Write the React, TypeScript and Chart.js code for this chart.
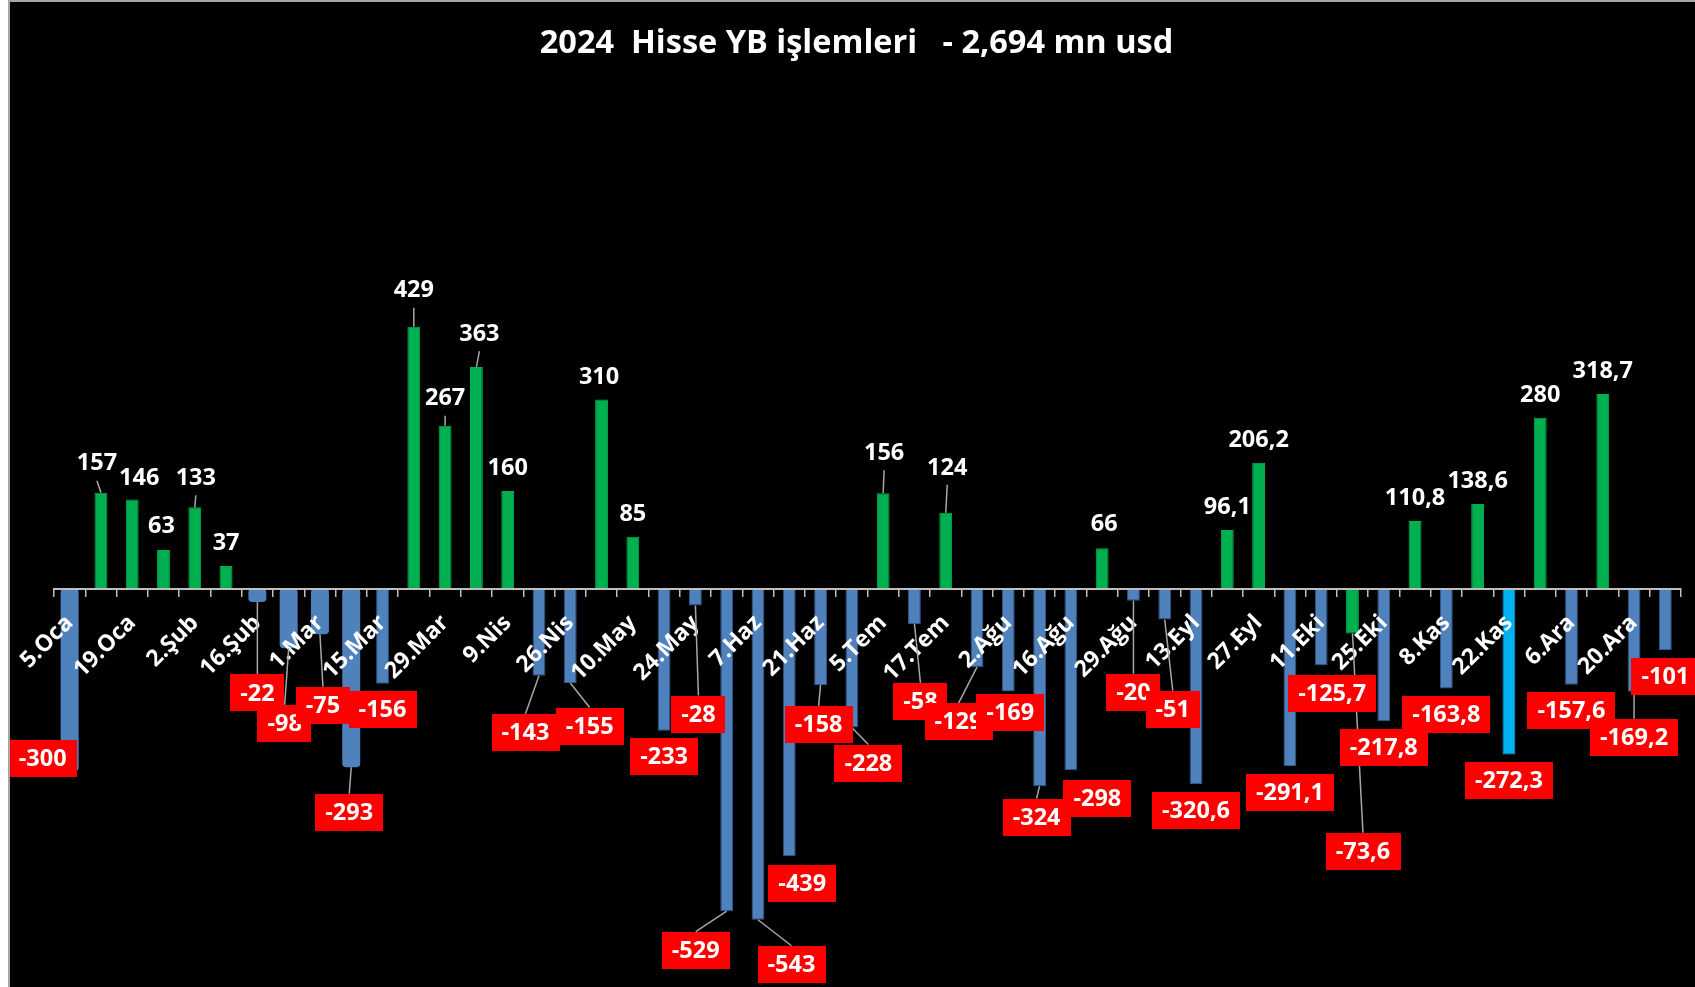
import React, { useEffect, useRef } from 'react';
import { Chart, registerables } from 'chart.js';

Chart.register(...registerables);

const TITLE = '2024  Hisse YB işlemleri   - 2,694 mn usd';

const WEEKS = [
  '5.Oca', '12.Oca', '19.Oca', '26.Oca', '2.Şub', '9.Şub', '16.Şub', '23.Şub',
  '1.Mar', '8.Mar', '15.Mar', '22.Mar', '29.Mar', '5.Nis', '9.Nis', '19.Nis',
  '26.Nis', '3.May', '10.May', '17.May', '24.May', '31.May', '7.Haz', '14.Haz',
  '21.Haz', '28.Haz', '5.Tem', '12.Tem', '17.Tem', '26.Tem', '2.Ağu', '9.Ağu',
  '16.Ağu', '23.Ağu', '29.Ağu', '6.Eyl', '13.Eyl', '20.Eyl', '27.Eyl', '4.Eki',
  '11.Eki', '18.Eki', '25.Eki', '1.Kas', '8.Kas', '15.Kas', '22.Kas', '29.Kas',
  '6.Ara', '13.Ara', '20.Ara', '27.Ara',
];

// weekly net foreign flows into equities, mn usd
const FLOWS = [
  -300, 157, 146, 63, 133, 37, -22, -98, -75, -293,
  -156, 429, 267, 363, 160, -143, -155, 310, 85, -233,
  -28, -529, -543, -439, -158, -228, 156, -58, 124, -129,
  -169, -324, -298, 66, -20, -51, -320.6, 96.1, 206.2, -291.1,
  -125.7, -73.6, -217.8, 110.8, -163.8, 138.6, -272.3, 280, -157.6, 318.7,
  -169.2, -101,
];

// styling groups
const WIDE_BARS = [0, 6, 7, 8, 9];
const GREEN_EXCEPTION = [41];
const CYAN_BARS = [46];

// data-label placement (pixel shift from bar end, leader line flag)
const POS_DY = -23.5;
const NEG_DY = 26;
const LABEL_SHIFT: Record<number, [number, number, boolean]> = {
  0: [-27, -13, false],
  1: [-4, -30, true],
  2: [7, -22, false],
  3: [-2, -25, false],
  4: [1, -30, true],
  6: [0, 91, true],
  7: [-4, 75, true],
  8: [3, 71, true],
  9: [-2, 45, true],
  11: [0, -37, true],
  12: [0, -28, true],
  13: [3, -34, true],
  15: [-13.5, 56.5, true],
  16: [19.5, 43, true],
  17: [-2.5, -23, false],
  20: [3, 108.5, true],
  21: [-31, 39, true],
  22: [33.5, 44.5, true],
  23: [13, 27, false],
  24: [-2, 39.5, true],
  25: [16.5, 35.5, true],
  26: [1, -41, true],
  27: [6, 77.5, true],
  28: [1.5, -46, true],
  29: [-18.5, 54.5, true],
  30: [2, 20.5, false],
  31: [-3, 31, true],
  32: [26.5, 28, false],
  33: [2, -25, false],
  34: [0, 91.5, true],
  35: [8, 89.5, true],
  40: [11, 28, false],
  41: [10.5, 218, true],
  50: [0, 45.5, true],
};

const BOX_H = 37;
const LABEL_FONT = 'bold 23.5px "Open Sans"';

const labelPlugin = {
  id: 'flowLabels',
  afterDraw(chart: any) {
    const c = chart.ctx as CanvasRenderingContext2D;
    const pts = FLOWS.map((v, i) => {
      const d = WIDE_BARS.includes(i) ? 1 : 0;
      const el = chart.getDatasetMeta(d).data[i];
      const s = LABEL_SHIFT[i] ?? [0, v >= 0 ? POS_DY : NEG_DY, false];
      return { v, x: el.x, y: el.y, lx: el.x + s[0], ly: el.y + s[1], lead: s[2] };
    });
    c.save();
    c.font = LABEL_FONT;
    c.strokeStyle = '#A6A6A6';
    c.lineWidth = 1.5;
    pts.forEach((p) => {
      if (!p.lead) return;
      c.beginPath();
      c.moveTo(p.x, p.y);
      c.lineTo(p.lx, p.v >= 0 ? p.ly + 18 : p.ly - BOX_H / 2);
      c.stroke();
    });
    c.textAlign = 'center';
    c.textBaseline = 'middle';
    pts.forEach((p) => {
      const txt = String(p.v).replace('.', ',');
      const w = c.measureText(txt).width;
      if (p.v < 0) {
        c.fillStyle = '#FF0000';
        c.fillRect(Math.round(p.lx - w / 2 - 10), Math.round(p.ly - BOX_H / 2), Math.round(w + 20), BOX_H);
      }
      c.fillStyle = '#FFFFFF';
      c.fillText(txt, p.lx, p.ly + 1);
    });
    c.restore();
  },
};

export default function App() {
  const ref = useRef<HTMLCanvasElement>(null);

  useEffect(() => {
    document.documentElement.style.overflow = 'hidden';
    const canvas = ref.current;
    if (!canvas) return;

    const colorOf = (i: number) => {
      if (CYAN_BARS.includes(i)) return '#00B0F0';
      if (GREEN_EXCEPTION.includes(i) || FLOWS[i] >= 0) return '#00B050';
      return '#4F81BD';
    };
    const fills = FLOWS.map((_, i) => colorOf(i));
    const borders = FLOWS.map((_, i) => (colorOf(i) === '#4F81BD' ? '#34568A' : colorOf(i)));
    const normal = FLOWS.map((v, i) => (WIDE_BARS.includes(i) ? null : v));
    const wide = FLOWS.map((v, i) => (WIDE_BARS.includes(i) ? v : null));

    const chart = new Chart(canvas, {
      type: 'bar',
      data: {
        labels: WEEKS,
        datasets: [
          {
            data: normal,
            backgroundColor: fills,
            borderColor: borders,
            borderWidth: 1,
            barPercentage: 0.41,
            categoryPercentage: 1,
            grouped: false,
          } as any,
          {
            data: wide,
            backgroundColor: '#4F81BD',
            borderColor: '#4F81BD',
            borderWidth: 0,
            borderRadius: 4,
            borderSkipped: false,
            barPercentage: 0.575,
            categoryPercentage: 1,
            grouped: false,
          } as any,
        ],
      },
      options: {
        animation: false,
        responsive: false,
        layout: { padding: { left: 22, right: 14, top: 0, bottom: 2 } },
        plugins: {
          legend: { display: false },
          tooltip: { enabled: false },
          title: {
            display: true,
            text: TITLE,
            color: '#FFFFFF',
            font: { family: 'Open Sans', size: 32.5, weight: 'bold', lineHeight: 1.2 },
            padding: { top: 22, bottom: 98.5 },
          },
        },
        scales: {
          x: {
            position: { y: 0 } as any,
            z: 1,
            grid: {
              display: true,
              drawOnChartArea: false,
              drawTicks: true,
              tickLength: 7,
              color: '#BFBFBF',
              lineWidth: 1.5,
              offset: true,
              z: 1,
            },
            border: { display: true, color: '#BFBFBF', width: 2, z: 1 },
            ticks: {
              z: 1,
              autoSkip: false,
              minRotation: 45,
              maxRotation: 45,
              padding: 14,
              color: '#FFFFFF',
              font: { family: 'Open Sans', size: 23, weight: 'bold' },
              callback: (_v: any, i: number) => (i % 2 === 0 ? WEEKS[i] : ''),
            },
            afterFit: (s: any) => {
              s.paddingLeft = 0;
              s.paddingRight = 0;
            },
          } as any,
          y: {
            display: true,
            min: -650,
            max: 700,
            grid: { display: false },
            border: { display: false },
            ticks: { display: false },
            afterFit: (s: any) => {
              s.width = 22;
            },
          } as any,
        },
      },
      plugins: [labelPlugin],
    });
    return () => chart.destroy();
  }, []);

  return (
    <div
      style={{
        position: 'absolute',
        left: 8,
        top: 0,
        width: 1687,
        height: 987,
        boxSizing: 'border-box',
        borderTop: '2px solid #A6A6A6',
        borderLeft: '2px solid #A6A6A6',
        background: '#000000',
        overflow: 'hidden',
      }}
    >
      <canvas ref={ref} width={1685} height={985} style={{ display: 'block' }} />
    </div>
  );
}
